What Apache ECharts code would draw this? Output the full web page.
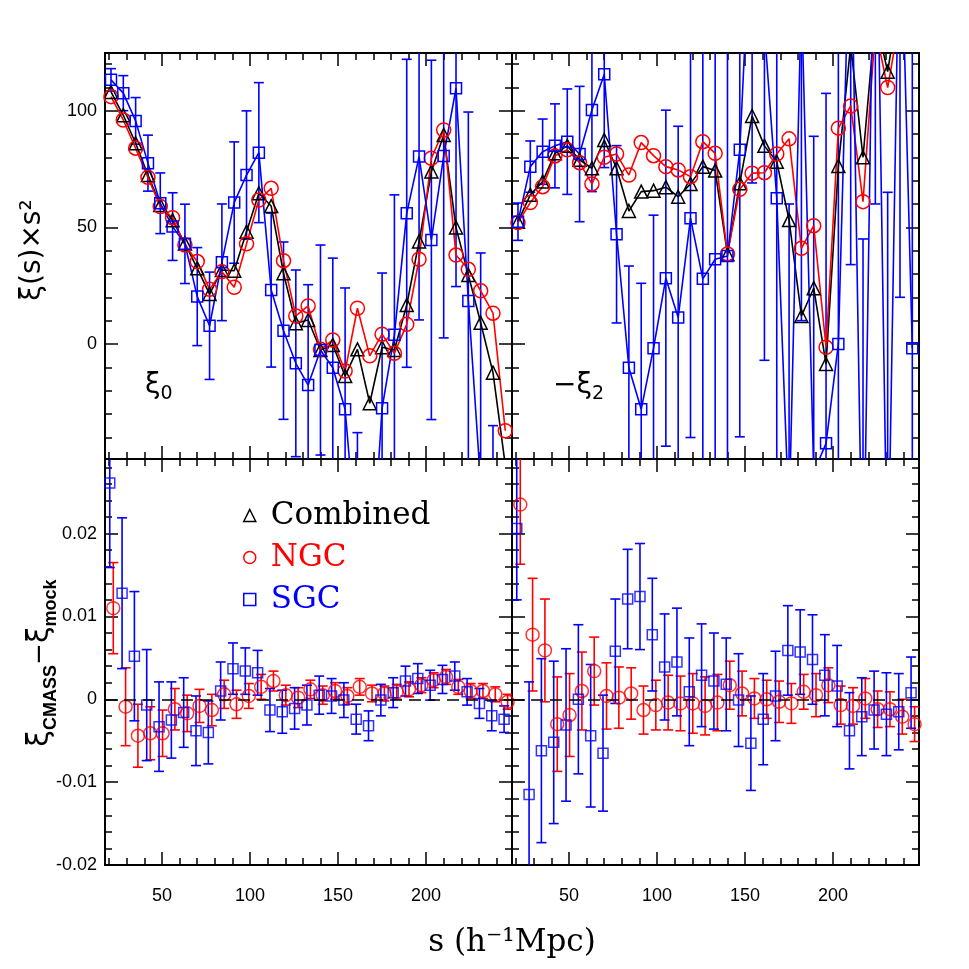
<!DOCTYPE html>
<html>
<head>
<meta charset="utf-8">
<script src="https://cdn.jsdelivr.net/npm/echarts@6/dist/echarts.min.js"></script>
<style>
html, body { margin: 0; padding: 0; background: #fff; }
#chart { width: 969px; height: 969px; }
</style>
</head>
<body>
<div id="chart"></div>
<script>
// separation bins, h^-1 Mpc
const sBins = [21, 28, 35, 42, 49, 56, 63, 70, 77, 84, 91, 98, 105, 112, 119, 126, 133,
  140, 147, 154, 161, 168, 175, 182, 189, 196, 203, 210, 217, 224, 231, 238, 245]

// monopole xi0 * s^2
const xi0Combined = [108, 98, 86, 72.4, 59.6, 53, 43.1, 32.4, 21.4, 31.7, 31.4, 48.1, 64.6, 59.1, 30.3, 8.9, 10.3,
  -2.6, -0.4, -13.7, -2.3, -25.4, -1.4, -2.6, 16.7, 43.9, 73.9, 89.6, 49.9, 29.6, 9.1, -12.3, -52]
const xi0NGC = [106.0, 96.0, 83.9, 71.4, 58.9, 54.1, 42.4, 35.3, 23.4, 31.0, 24.3, 42.9, 61.7, 66.7, 35.7, 12.0, 16.3,
  -2.3, 1.7, -11.6, 15.3, -5.1, 4.2, -4.0, 8.4, 36.3, 79.6, 91.7, 38.1, 32.0, 22.8, 13.2, -37.2]
const xi0SGC = [113.2, 107.5, 95.6, 77.5, 60.3, 50.3, 42.9, 20.3, 7.8, 35.0, 60.6, 72.4, 82.0, 23.1, 5.7, -8.3, -17.6,
  -2.6, -10.2, -28.0, -90, -110, -27.6, 3.9, 56.0, 80.3, 44.6, 80.6, 109.6, 18.4, -60, -140, -150]
const xi0SGCErr = [4.8, 7.5, 10, 12, 13, 14.5, 17, 21, 23, 25, 26, 27.5, 30, 33, 38, 40, 43,
  45, 47, 52, 52, 55, 58, 60, 66, 70, 77, 78, 85, 81, 99, 105, 100]

// quadrupole -xi2 * s^2
const mXi2Combined = [52.4, 63.9, 69.6, 81.7, 84.9, 78.9, 75.3, 87.4, 75.3, 57.0, 65.3, 65.7, 67.2, 63.1, 68.6, 76.0, 74.3,
  38.5, 68.9, 97.7, 84.9, 78.1, 53.1, 12.0, 23.9, -8.6, 76.3, 128, 80.0, 140, 116.7, 150, 160]
const mXi2NGC = [52.0, 60.6, 67.4, 80.6, 83.2, 77.7, 68.6, 80.0, 81.4, 72.4, 86.3, 80.7, 76.0, 74.6, 71.7, 86.7, 81.7,
  38.6, 66.3, 73.2, 73.4, 81.4, 87.9, 41.0, 50.7, -1.4, 92.5, 102.0, 61.0, 135, 109.9, 140, 150]
const mXi2SGC = [52.4, 76.0, 82.4, 84.9, 86.7, 81.4, 100.3, 115.6, 47.0, -10.2, -28.0, -1.8, 28.2, 11.3, 53.9, 27.9, 36.3,
  37.7, 83.2, 194, 135, 62.4, -75, 150, -55, -42.6, 0.0, 195, -120, 230, -110, 200, -1.8]
const mXi2SGCErr = [8, 11, 14, 18, 22.6, 29, 35, 40, 38, 43.6, 54, 57, 72, 82, 94, 98, 100,
  105, 123, 125, 142, 130, 135, 140, 144, 150, 155, 161, 165, 170, 175, 180, 190]

// xi_CMASS - xi_mock, monopole column
const d0NGC = [0.0110, -0.0009, -0.0044, -0.0041, -0.0041, -0.0012, -0.0017, -0.0008, -0.0013, 0.0006, -0.0006,
  0.0004, 0.0015, 0.0022, 0.0005, 0.0002, 0.0012, 0.0005, 0.0010, 0.0004, 0.0015, 0.0007, 0.0007, 0.0009,
  0.0012, 0.0017, 0.0023, 0.0027, 0.0015, 0.0010, 0.0010, 0.0006, -0.0003]
const d0NGCErr = [0.0055, 0.0047, 0.0038, 0.0032, 0.0028, 0.0025, 0.0022, 0.0020, 0.0019, 0.0017, 0.0017,
  0.0015, 0.0015, 0.0012, 0.0012, 0.0012, 0.0011, 0.0011, 0.0010, 0.0010, 0.0010, 0.0010, 0.0009, 0.0009,
  0.0009, 0.0009, 0.0009, 0.0009, 0.0009, 0.0009, 0.0009, 0.0009, 0.0009]
const d0SGC = [0.0261, 0.0128, 0.0052, -0.0007, -0.0033, -0.0025, -0.0016, -0.0038, -0.0040, 0.0010, 0.0037,
  0.0034, 0.0032, -0.0013, -0.0015, -0.0011, -0.0007, 0.0005, 0.0004, -0.0001, -0.0024, -0.0032, -0.0001, 0.0008,
  0.0022, 0.0025, 0.0017, 0.0024, 0.0028, 0.0009, -0.0005, -0.0020, -0.0024]
const d0SGCErr = [0.0102, 0.0091, 0.0078, 0.0067, 0.0054, 0.0046, 0.0042, 0.0042, 0.0038, 0.0035, 0.0031,
  0.0028, 0.0027, 0.0026, 0.0026, 0.0025, 0.0024, 0.0023, 0.0021, 0.0021, 0.0018, 0.0018, 0.0019, 0.0018,
  0.0018, 0.0018, 0.0018, 0.0017, 0.0017, 0.0016, 0.0018, 0.0018, 0.0016]

// xi_CMASS - xi_mock, quadrupole column
const d2NGC = [0.0235, 0.0078, 0.0059, -0.0030, -0.0019, 0.0010, 0.0034, 0.0004, 0.0002, 0.0007, -0.0013,
  -0.0007, -0.0004, -0.0005, -0.0005, -0.0008, -0.0004, 0.0017, 0.0007, 0.0001, 0.0000, -0.0003, -0.0005, 0.0009,
  0.0005, 0.0017, -0.0007, -0.0008, 0.0001, -0.0012, -0.0012, -0.0021, -0.0030]
const d2NGCErr = [0.0072, 0.0068, 0.0062, 0.0057, 0.0050, 0.0047, 0.0041, 0.0040, 0.0037, 0.0031, 0.0029,
  0.0030, 0.0033, 0.0033, 0.0036, 0.0035, 0.0034, 0.0029, 0.0027, 0.0024, 0.0023, 0.0025, 0.0024, 0.0021,
  0.0026, 0.0021, 0.0023, 0.0022, 0.0024, 0.0022, 0.0021, 0.0021, 0.0021]
const d2SGC = [0.0206, -0.0115, -0.0062, -0.0052, -0.0031, 0.0000, -0.0044, -0.0065, 0.0058, 0.0121, 0.0124,
  0.0078, 0.0039, 0.0045, 0.0009, 0.0029, 0.0022, 0.0018, -0.0001, -0.0053, -0.0024, 0.0004, 0.0059, 0.0057,
  0.0048, 0.0029, 0.0016, -0.0038, -0.0021, -0.0013, -0.0018, -0.0015, 0.0008]
const d2SGCErr = [0.0086, 0.0136, 0.0111, 0.0098, 0.0092, 0.0090, 0.0086, 0.0070, 0.0063, 0.0060, 0.0064,
  0.0068, 0.0064, 0.0065, 0.0065, 0.0062, 0.0058, 0.0056, 0.0056, 0.0057, 0.0055, 0.0054, 0.0054, 0.0051,
  0.0054, 0.0049, 0.0049, 0.0046, 0.0047, 0.0047, 0.0050, 0.0046, 0.0043]

// tick values
const xMajorTicks = [50, 100, 150, 200]
const xMinorTicks = [20, 30, 40, 60, 70, 80, 90, 110, 120, 130, 140, 160, 170, 180, 190, 210, 220, 230, 240]
const topMajorTicks = [0, 50, 100]
const topMinorTicks = [-40, -30, -20, -10, 10, 20, 30, 40, 60, 70, 80, 90, 110, 120]
const botMajorTicks = [-0.02, -0.01, 0, 0.01, 0.02]
const botMinorTicks = [-0.018, -0.016, -0.014, -0.012, -0.008, -0.006, -0.004, -0.002, 0.002, 0.004, 0.006,
  0.008, 0.012, 0.014, 0.016, 0.018, 0.022, 0.024, 0.026, 0.028]

const X_RANGE = [17.6, 248.8]
const TOP_RANGE = [-49.3, 124.7]
const BOT_RANGE = [-0.02, 0.029]

const BLACK = '#000000'
const RED = '#ff0000'
const BLUE = '#0000ff'
const NGC_SHIFT = 1.3
const SGC_SHIFT = -0.7

const xAxes = []
const yAxes = []

// four axes per dimension: major/minor ticks on both sides, first one carries the labels
function addAxes(list, dim, gridIndex, range, major, minor, label) {
  const first = list.length
  const sides = dim === 'x' ? ['bottom', 'top'] : ['left', 'right']
  sides.forEach((pos, k) => {
    [[major, 13], [minor, 7]].forEach(([vals, len], m) => {
      const withLabel = label && k === 0 && m === 0
      list.push({
        type: 'value',
        gridIndex: gridIndex,
        position: pos,
        min: range[0],
        max: range[1],
        // the line has to be on for the ticks to be drawn
        axisLine: { show: true, onZero: false, lineStyle: { color: BLACK, width: 2 } },
        splitLine: { show: false },
        axisTick: { show: true, inside: true, length: len, customValues: vals, lineStyle: { color: BLACK, width: 1.5 } },
        axisLabel: withLabel ? Object.assign({ show: true, customValues: major }, label) : { show: false }
      })
    })
  })
  return first
}

const xLabel = { color: BLACK, fontFamily: 'Liberation Sans', fontSize: 18, margin: 22 }
const yLabel = {
  color: BLACK, fontFamily: 'Liberation Sans', fontSize: 18, margin: 8,
  formatter: v => String(Math.round(v * 1000) / 1000)
}

const grids = [
  { left: 105, top: 53, width: 407, height: 406 },
  { left: 512, top: 53, width: 407, height: 406 },
  { left: 105, top: 459, width: 407, height: 406 },
  { left: 512, top: 459, width: 407, height: 406 }
].map(g => Object.assign({ show: true, borderColor: BLACK, borderWidth: 2, backgroundColor: 'transparent' }, g))

const ax = grids.map((g, i) => {
  const isBottom = i >= 2
  const isLeft = i % 2 === 0
  const yr = isBottom ? BOT_RANGE : TOP_RANGE
  const yMaj = isBottom ? botMajorTicks : topMajorTicks
  const yMin = isBottom ? botMinorTicks : topMinorTicks
  return {
    x: addAxes(xAxes, 'x', i, X_RANGE, xMajorTicks, xMinorTicks, isBottom ? xLabel : null),
    y: addAxes(yAxes, 'y', i, yr, yMaj, yMin, isLeft ? yLabel : null)
  }
})

function lineSeries(name, g, values, color, symbol, size) {
  return {
    name: name,
    type: 'line',
    xAxisIndex: ax[g].x,
    yAxisIndex: ax[g].y,
    data: sBins.map((s, i) => [s, values[i]]),
    symbol: symbol,
    symbolSize: size,
    showAllSymbol: true,
    itemStyle: { color: 'rgba(0,0,0,0)', borderColor: color, borderWidth: 1.5 },
    lineStyle: { color: color, width: 1.6 },
    emphasis: { disabled: true },
    clip: true
  }
}

function pointSeries(name, g, shift, values, color, symbol, size) {
  return {
    name: name,
    type: 'scatter',
    xAxisIndex: ax[g].x,
    yAxisIndex: ax[g].y,
    data: sBins.map((s, i) => [s + shift, values[i]]),
    symbol: symbol,
    symbolSize: size,
    itemStyle: { color: 'rgba(0,0,0,0)', borderColor: color, borderWidth: 1.5 },
    emphasis: { disabled: true },
    clip: true
  }
}

function errorSeries(name, g, shift, values, errs, color) {
  return {
    name: name,
    type: 'custom',
    xAxisIndex: ax[g].x,
    yAxisIndex: ax[g].y,
    data: sBins.map((s, i) => [s + shift, values[i] - errs[i], values[i] + errs[i]]),
    encode: { x: 0, y: [1, 2] },
    clip: true,
    silent: true,
    renderItem: (params, api) => {
      const x = api.value(0)
      const lo = api.coord([x, api.value(1)])
      const hi = api.coord([x, api.value(2)])
      const w = 5
      const style = { stroke: color, lineWidth: 1.6, fill: null }
      return {
        type: 'group',
        children: [
          { type: 'line', shape: { x1: lo[0], y1: lo[1], x2: hi[0], y2: hi[1] }, style: style },
          { type: 'line', shape: { x1: lo[0] - w, y1: lo[1], x2: lo[0] + w, y2: lo[1] }, style: style },
          { type: 'line', shape: { x1: hi[0] - w, y1: hi[1], x2: hi[0] + w, y2: hi[1] }, style: style }
        ]
      }
    }
  }
}

const zeroLine = {
  silent: true,
  symbol: ['none', 'none'],
  label: { show: false },
  lineStyle: { color: BLACK, width: 1.5, type: [12, 7] },
  data: [{ yAxis: 0 }]
}

const series = [
  lineSeries('Combined', 0, xi0Combined, BLACK, 'triangle', 13),
  lineSeries('NGC', 0, xi0NGC, RED, 'circle', 14),
  errorSeries('SGC', 0, 0, xi0SGC, xi0SGCErr, BLUE),
  lineSeries('SGC', 0, xi0SGC, BLUE, 'rect', 11),

  lineSeries('Combined', 1, mXi2Combined, BLACK, 'triangle', 13),
  lineSeries('NGC', 1, mXi2NGC, RED, 'circle', 14),
  errorSeries('SGC', 1, 0, mXi2SGC, mXi2SGCErr, BLUE),
  lineSeries('SGC', 1, mXi2SGC, BLUE, 'rect', 11),

  errorSeries('NGC', 2, NGC_SHIFT, d0NGC, d0NGCErr, RED),
  Object.assign(pointSeries('NGC', 2, NGC_SHIFT, d0NGC, RED, 'circle', 13), { markLine: zeroLine }),
  errorSeries('SGC', 2, SGC_SHIFT, d0SGC, d0SGCErr, BLUE),
  pointSeries('SGC', 2, SGC_SHIFT, d0SGC, BLUE, 'rect', 10),

  errorSeries('NGC', 3, NGC_SHIFT, d2NGC, d2NGCErr, RED),
  Object.assign(pointSeries('NGC', 3, NGC_SHIFT, d2NGC, RED, 'circle', 13), { markLine: zeroLine }),
  errorSeries('SGC', 3, SGC_SHIFT, d2SGC, d2SGCErr, BLUE),
  pointSeries('SGC', 3, SGC_SHIFT, d2SGC, BLUE, 'rect', 10)
]

const sub = { fontFamily: 'DejaVu Sans', fontSize: 19, lineHeight: 19, verticalAlign: 'bottom', fill: BLACK }
const greek = { fontFamily: 'DejaVu Sans', fontSize: 28, lineHeight: 36, fill: BLACK }

const graphics = [
  {
    type: 'text', x: 33, y: 250, rotation: Math.PI / 2,
    style: { text: 'ξ(s)×s²', fontFamily: 'DejaVu Sans', fontSize: 28, fill: BLACK, align: 'center', verticalAlign: 'middle' }
  },
  {
    type: 'text', x: 40, y: 663, rotation: Math.PI / 2,
    style: {
      text: '{g|ξ}{s|CMASS}{m|−}{g|ξ}{s|mock}',
      align: 'center', verticalAlign: 'middle',
      rich: {
        g: { fontFamily: 'DejaVu Sans', fontSize: 30, lineHeight: 40, fill: BLACK },
        m: { fontFamily: 'DejaVu Sans', fontSize: 26, lineHeight: 40, fill: BLACK },
        s: { fontFamily: 'Liberation Sans', fontWeight: 'bold', fontSize: 18, lineHeight: 18, verticalAlign: 'bottom', fill: BLACK }
      }
    }
  },
  {
    type: 'text', x: 512, y: 943,
    style: { text: 's (h⁻¹Mpc)', fontFamily: 'DejaVu Serif', fontSize: 31, fill: BLACK, align: 'center', verticalAlign: 'middle' }
  },
  {
    type: 'text', x: 145, y: 386,
    style: { text: '{g|ξ}{s|0}', align: 'left', verticalAlign: 'middle', rich: { g: greek, s: sub } }
  },
  {
    type: 'text', x: 553, y: 386,
    style: { text: '{g|−ξ}{s|2}', align: 'left', verticalAlign: 'middle', rich: { g: greek, s: sub } }
  }
]

const legendItem = (name, icon, color) => ({
  name: name,
  icon: icon,
  itemStyle: { color: 'rgba(0,0,0,0)', borderColor: color, borderWidth: 1.5 },
  textStyle: { color: color }
})

const chart = echarts.init(document.getElementById('chart'))
chart.setOption({
  animation: false,
  backgroundColor: '#ffffff',
  grid: grids,
  xAxis: xAxes,
  yAxis: yAxes,
  legend: {
    orient: 'vertical',
    left: 243,
    top: 500,
    padding: 0,
    itemGap: 11,
    itemWidth: 12,
    itemHeight: 12,
    selectedMode: false,
    textStyle: { fontFamily: 'DejaVu Serif', fontSize: 31, padding: [0, 0, 0, 10] },
    data: [
      legendItem('Combined', 'triangle', BLACK),
      legendItem('NGC', 'circle', RED),
      legendItem('SGC', 'rect', BLUE)
    ]
  },
  graphic: graphics,
  series: series
})
</script>
</body>
</html>
